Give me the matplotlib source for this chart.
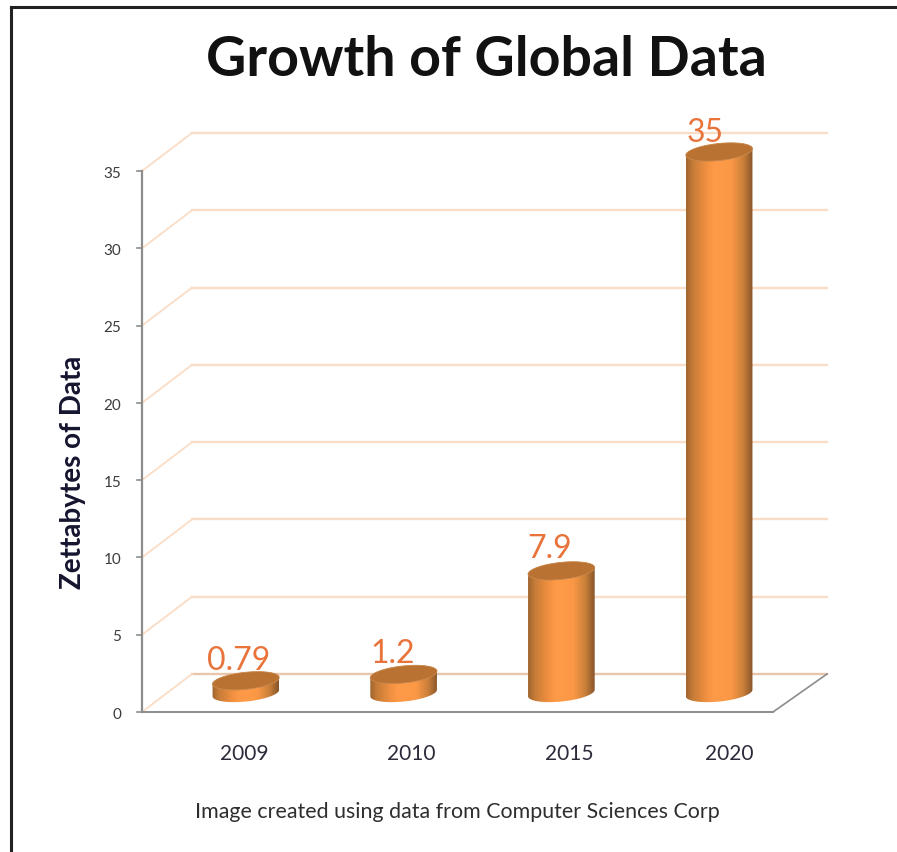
import numpy as np
import matplotlib
matplotlib.use("Agg")
import matplotlib.pyplot as plt
from matplotlib.colors import LinearSegmentedColormap
from matplotlib.lines import Line2D
from matplotlib.patches import Polygon

plt.rcParams["font.family"] = ["Lato", "DejaVu Sans"]

years = ["2009", "2010", "2015", "2020"]
zettabytes = [0.79, 1.2, 7.9, 35]
value_labels = ["0.79", "1.2", "7.9", "35"]
y_ticks = [0, 5, 10, 15, 20, 25, 30, 35]

W, H = 897, 852
# front plane of the fake 3d box, in pixels
LEFT, RIGHT, BOTTOM, TOP = 142, 773, 712, 171
DEPTH_X, DEPTH_Y = 50, 38   # pixels
YMAX = 40                   # axes runs past 35 so the top of the last bar is not cut

px_x = 4 / (RIGHT - LEFT)     # data units per pixel
px_y = 35 / (BOTTOM - TOP)
dx = DEPTH_X * px_x
dy = DEPTH_Y * px_y
back_end = 4 + dx + 4 * px_x  # back wall runs a little further right than the floor

fig = plt.figure(figsize=(W / 100, H / 100), dpi=100, facecolor="white")
ax = fig.add_axes([LEFT / W, 1 - BOTTOM / H, (RIGHT - LEFT) / W, (YMAX / px_y) / H])
ax.set_xlim(0, 4)
ax.set_ylim(0, YMAX)
ax.axis("off")

grid_col = "#FBDCC4"
axis_col = "#8C8C8C"

# back wall gridlines and the diagonals down to the y axis
for t in y_ticks:
    col = "#E9C6AB" if t == 0 else grid_col
    ax.plot([dx, back_end], [t + dy, t + dy], color=col, lw=1.7, clip_on=False, zorder=1)
    ax.plot([0, dx], [t, t + dy], color=grid_col, lw=1.3, clip_on=False, zorder=1)

# floor and y axis
ax.plot([0, 4], [0, 0], color=axis_col, lw=1.4, clip_on=False, zorder=2)
ax.plot([4, back_end], [0, dy], color=axis_col, lw=1.2, clip_on=False, zorder=2)
ax.plot([0, 0], [0, 35], color=axis_col, lw=1.6, clip_on=False, zorder=2)
for t in y_ticks:
    ax.plot([-5 * px_x, 0], [t, t], color=axis_col, lw=1.2, clip_on=False, zorder=2)
    ax.annotate(str(t), (0, t), xytext=(-15, -2), textcoords="offset points",
                ha="right", va="center", fontsize=11, color="#3C3C3C",
                annotation_clip=False)

shade = LinearSegmentedColormap.from_list(
    "cyl", [(0, "#A0652E"), (0.1, "#C67C38"), (0.3, "#F09040"), (0.42, "#FF9B48"),
            (0.68, "#FB9846"), (0.86, "#C97F3A"), (1, "#87552A")])
gradient = np.linspace(0, 1, 200).reshape(1, -1)

A, B, TILT = 33.5, 8.5, np.radians(6)   # ellipse in pixels
angles = np.linspace(0, 2 * np.pi, 121)


def ring(cx, cy, th):
    ex = A * np.cos(th) * np.cos(TILT) - B * np.sin(th) * np.sin(TILT)
    ey = A * np.cos(th) * np.sin(TILT) + B * np.sin(th) * np.cos(TILT)
    return np.column_stack([cx + ex * px_x, cy + ey * px_y])


label_dx = [-7, -11, -12, -14]
label_dy = [20, 20, 22, 19]
tick_dx = [-2, 8, 8, 10]

for i, v in enumerate(zettabytes):
    cx = i + 0.5 + dx / 2
    cy = dy / 2
    # body: lower half of the base ring + upper half of the top ring
    lower = ring(cx, cy, np.linspace(np.pi, 2 * np.pi, 60))
    upper = ring(cx, cy + v, np.linspace(0, np.pi, 60))
    body = Polygon(np.vstack([lower, upper]), closed=True, transform=ax.transData,
                   fc="none", ec="none")
    ax.add_patch(body)
    im = ax.imshow(gradient, cmap=shade, aspect="auto", zorder=3,
                   extent=[cx - A * px_x, cx + A * px_x, cy - 12 * px_y, cy + v + 12 * px_y])
    im.set_clip_path(body)
    ax.add_patch(Polygon(ring(cx, cy + v, angles), closed=True, fc="#B97232",
                         ec="#C98A50", lw=0.6, zorder=4))
    ax.annotate(value_labels[i], (cx, cy + v),
                xytext=(label_dx[i] * 0.72, label_dy[i] * 0.72), textcoords="offset points",
                ha="center", va="center", fontsize=23, color="#E8743B", zorder=5,
                annotation_clip=False)
    ax.annotate(years[i], (cx, 0), xytext=(tick_dx[i] * 0.72, -30),
                textcoords="offset points", ha="center", va="center",
                fontsize=15, color="#2B2B3A", annotation_clip=False)

ax.set_xlim(0, 4)
ax.set_ylim(0, YMAX)

fig.text(486 / W, 1 - 60 / H, "Growth of Global Data", ha="center", va="center",
         fontsize=40, fontweight="bold", color="#111111")
fig.text(73 / W, 1 - 472 / H, "Zettabytes of Data", rotation=90, ha="center", va="center",
         fontsize=20, fontweight="bold", color="#151530")
fig.text(457 / W, 1 - 812 / H, "Image created using data from Computer Sciences Corp",
         ha="center", va="center", fontsize=15.4, color="#2E2E2E")

# picture frame
fig.add_artist(Line2D([11 / W, 11 / W], [0, 1 - 7 / H], color="#222222", lw=2.2))
fig.add_artist(Line2D([11 / W, 1], [1 - 7 / H, 1 - 7 / H], color="#222222", lw=2.2))

fig.savefig("out.png", dpi=100)
